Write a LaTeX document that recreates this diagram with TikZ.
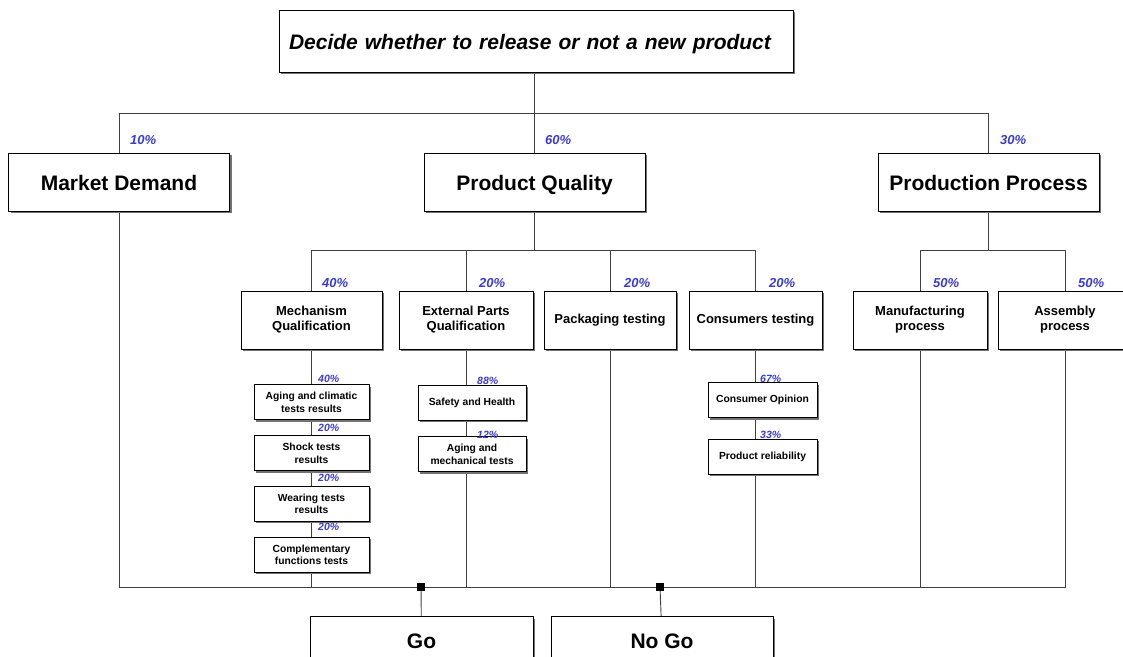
\documentclass[tikz,border=0pt]{standalone}
\usepackage{fontspec}
\setmainfont{Liberation Sans}
\usepackage{tikz}
\usetikzlibrary{positioning,shadows,backgrounds}
\definecolor{pctblue}{RGB}{58,58,214}

\begin{document}
\begin{tikzpicture}[
  x=1pt, y=-1pt,
  box/.style={draw, fill=white, line width=0.8pt, align=center, inner sep=1pt,
    drop shadow={shadow xshift=2pt, shadow yshift=-2pt, fill=black!55, opacity=1}},
  goal/.style={box, minimum width=514pt, minimum height=62pt, text height=17pt, text depth=0pt,
    text width=494pt, align=left, font=\fontsize{21}{24}\selectfont\bfseries\itshape},
  crit/.style={box, minimum width=221pt, minimum height=58pt, text height=17pt, text depth=0pt,
    font=\fontsize{21}{24}\selectfont\bfseries},
  sub/.style={box, minimum height=58pt, font=\fontsize{13}{15}\selectfont\bfseries},
  leaf/.style={box, minimum height=35pt, font=\fontsize{10.3}{12.5}\selectfont\bfseries},
  pct/.style={text=pctblue, inner sep=0pt, anchor=base west, font=\fontsize{13}{15}\selectfont\bfseries\itshape},
  pctsm/.style={pct, font=\fontsize{10.5}{12}\selectfont\bfseries\itshape},
  wire/.style={draw=black!75, line width=0.9pt},
  knot/.style={fill=black, inner sep=0pt, minimum size=8pt}
]
\useasboundingbox (0,0) rectangle (1123,656);

\node[goal] (goal) at (536,41) {Decide whether to release or not a new product};
\node[crit] (market) at (119,182) {Market Demand};
\node[crit] (quality) at (534.5,182) {Product Quality};
\node[crit] (production) at (988.5,182) {Production Process};

\node[sub, minimum width=141pt] (mech) at (311.5,320) {Mechanism\\Qualification};
\node[sub, minimum width=134pt] (ext) at (466,320) {External Parts\\Qualification};
\node[sub, minimum width=132pt] (pack) at (610,320) {Packaging testing};
\node[sub, minimum width=133pt] (cons) at (755.5,320) {Consumers testing};
\node[sub, minimum width=134pt] (manuf) at (920,320) {Manufacturing\\process};
\node[sub, minimum width=134pt] (assem) at (1065,320) {Assembly\\process};

\node[leaf, minimum width=115pt, below=35pt of mech] (aging) {Aging and climatic\\tests results};
\node[leaf, minimum width=115pt, below=15pt of aging] (shock) {Shock tests\\results};
\node[leaf, minimum width=115pt, below=15pt of shock] (wear) {Wearing tests\\results};
\node[leaf, minimum width=115pt, below=15pt of wear] (compl) {Complementary\\functions tests};
\node[leaf, minimum width=108pt] (safety) at (472,402.5) {Safety and Health};
\node[leaf, minimum width=108pt, below=16pt of safety] (agmech) {Aging and\\mechanical tests};
\node[leaf, minimum width=109pt] (opinion) at (762.5,400) {Consumer Opinion};
\node[leaf, minimum width=109pt, below=21pt of opinion] (reliab) {Product reliability};

\node[crit, minimum width=223pt, minimum height=46pt] (go) at (421.5,639.5) {Go};
\node[crit, minimum width=222pt, minimum height=46pt] (nogo) at (662,639.5) {No Go};
\node[knot] (kgo) at (421,587) {};
\node[knot] (knogo) at (660,587) {};

% weights
\node[pct] (w-market) at (130,144) {10\%};
\node[pct] (w-quality) at (545,144) {60\%};
\node[pct] (w-production) at (1000,144) {30\%};
\node[pct] (w-mech) at (322,287) {40\%};
\node[pct] (w-ext) at (479,287) {20\%};
\node[pct] (w-pack) at (624,287) {20\%};
\node[pct] (w-cons) at (769,287) {20\%};
\node[pct] (w-manuf) at (933,287) {50\%};
\node[pct] (w-assem) at (1078,287) {50\%};
\node[pctsm] (w-aging) at (318,382) {40\%};
\node[pctsm] (w-shock) at (318,431) {20\%};
\node[pctsm] (w-wear) at (318,481) {20\%};
\node[pctsm] (w-compl) at (318,530) {20\%};
\node[pctsm] (w-safety) at (477,384) {88\%};
\node[pctsm] (w-agmech) at (477,438) {12\%};
\node[pctsm] (w-opinion) at (760,382) {67\%};
\node[pctsm] (w-reliab) at (760,438) {33\%};

\begin{scope}[on background layer]
\coordinate (bar1) at (0,113);
\coordinate (bar2) at (0,250);
\coordinate (bot) at (0,587);
\draw[wire] (quality |- goal.south) -- (quality.north);
\draw[wire] (market.north) -- (market.north |- bar1) -- (production.north |- bar1) -- (production.north);
\draw[wire] (quality.south) -- (quality.south |- bar2);
\draw[wire] (mech.north) -- (mech.north |- bar2) -- (cons.north |- bar2) -- (cons.north);
\draw[wire] (ext.north) -- (ext.north |- bar2);
\draw[wire] (pack.north) -- (pack.north |- bar2);
\draw[wire] (production.south) -- (production.south |- bar2);
\draw[wire] (manuf.north) -- (manuf.north |- bar2) -- (assem.north |- bar2) -- (assem.north);
\draw[wire] (market.south) -- (market.south |- bot) -- (assem.south |- bot) -- (assem.south);
\foreach \n in {mech,ext,pack,cons,manuf}
  \draw[wire] (\n.south) -- (\n.south |- bot);
\draw[wire] (kgo) -- (go);
\draw[wire] (knogo) -- (nogo);
\end{scope}
\end{tikzpicture}
\end{document}
